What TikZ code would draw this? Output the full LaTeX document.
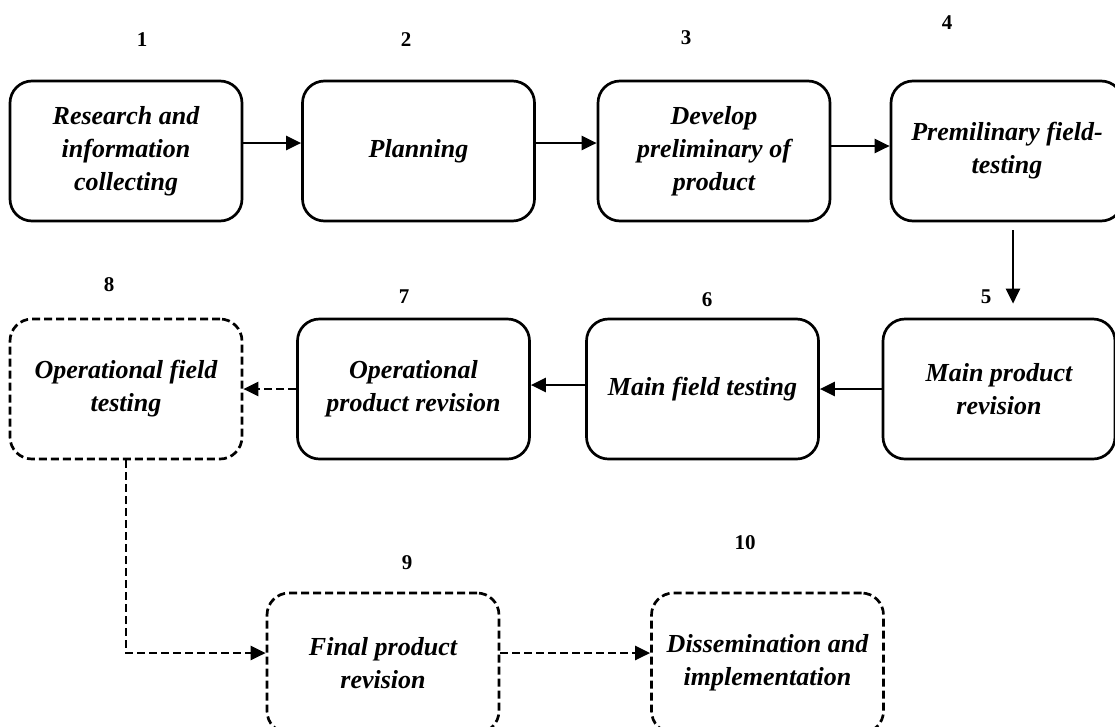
\documentclass[tikz,border=0pt]{standalone}
\usepackage{fontspec}
\setmainfont{Liberation Serif}
\usetikzlibrary{arrows.meta,calc}
\tikzset{
  box/.style={draw, line width=2.7pt, rounded corners=22pt, minimum width=232pt, minimum height=140pt,
    align=center, inner sep=0pt, font=\fontsize{26}{33}\selectfont\bfseries\itshape},
  dbox/.style={box, dash pattern=on 8pt off 4pt},
  num/.style={font=\fontsize{21}{25}\selectfont\bfseries, inner sep=0pt},
  arr/.style={-{Triangle[length=15pt,width=14pt]}, line width=2.5pt},
  darr/.style={arr, dash pattern=on 8pt off 4pt}
}
\begin{document}
\begin{tikzpicture}[x=1pt,y=-1pt]
\useasboundingbox (0,0) rectangle (1115,726);
\clip (0,0) rectangle (1115,726);
% row 1
\node[box] (b1) at (126,151) {Research and\\information\\collecting};
\node[box] (b2) at (418.5,151) {Planning};
\node[box] (b3) at (714,151) {Develop\\preliminary of\\product};
\node[box] (b4) at (1007,151) {Premilinary field-\\testing};
% row 2
\node[box] (b5) at (999,389) {Main product\\revision};
\node[box] (b6) at (702.5,389) {Main field testing};
\node[box] (b7) at (413.5,389) {Operational\\product revision};
\node[dbox] (b8) at (126,389) {Operational field\\testing};
% row 3
\node[dbox] (b9) at (383,663) {Final product\\revision};
\node[dbox] (b10) at (767.5,663) {Dissemination and\\implementation};
% numbers
\node[num] (n1) at (142,40) {1};
\node[num] (n2) at (406,40) {2};
\node[num] (n3) at (686,38) {3};
\node[num] (n4) at (947,23) {4};
\node[num] (n5) at (986,297) {5};
\node[num] (n6) at (707,300) {6};
\node[num] (n7) at (404,297) {7};
\node[num] (n8) at (109,285) {8};
\node[num] (n9) at (407,563) {9};
\node[num] (n10) at (745,543) {10};
% connectors
\draw[arr] ([yshift=8pt]b1.east) -- ([yshift=8pt]b2.west);
\draw[arr] ([yshift=8pt]b2.east) -- ([yshift=8pt]b3.west);
\draw[arr] ([yshift=5pt]b3.east) -- ([yshift=5pt]b4.west);
\draw[arr] ([shift={(6pt,-8pt)}]b4.south) -- ([shift={(14pt,14pt)}]b5.north);
\draw[arr] (b5.west) -- (b6.east);
\draw[arr] ([yshift=4pt]b6.west) -- ([yshift=4pt]b7.east);
\draw[darr] (b7.west) -- (b8.east);
\draw[darr] (b8.south) |- ([yshift=10pt]b9.west);
\draw[darr] ([yshift=10pt]b9.east) -- ([yshift=10pt]b10.west);
\end{tikzpicture}
\end{document}
